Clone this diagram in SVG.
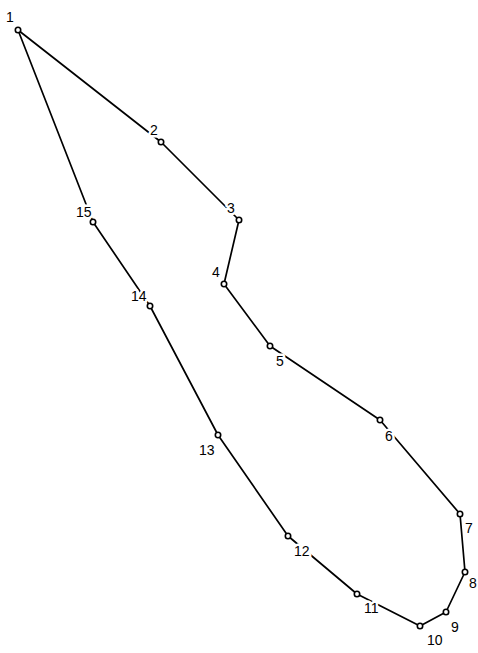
<svg xmlns="http://www.w3.org/2000/svg" width="478" height="653" viewBox="0 0 478 653">
<style>
.e{stroke:#000;stroke-width:1.7;fill:none;stroke-linejoin:round}
.n{fill:#fff;stroke:#000;stroke-width:1.6}
.l{font-family:"Liberation Sans",Arial,sans-serif;font-size:14px;fill:#000;stroke:#fff;stroke-width:5;stroke-linejoin:round;paint-order:stroke}
</style>
<rect width="478" height="653" fill="#fff"/>
<g id="connectors">
<polyline class="e" points="18,30 161,142 239,220 224,284 270,346 380,420 460,514 465,572 446,612 420,626 357,594 288,536 218,435 150,306 93,222 18,30"/>
</g>
<g id="labels">
<text class="l" x="6" y="22">1</text>
<text class="l" x="150" y="135">2</text>
<text class="l" x="227" y="213">3</text>
<text class="l" x="212" y="277">4</text>
<text class="l" x="276" y="366">5</text>
<text class="l" x="385" y="441">6</text>
<text class="l" x="465" y="533">7</text>
<text class="l" x="469" y="588">8</text>
<text class="l" x="451" y="632">9</text>
<text class="l" x="427" y="645">10</text>
<text class="l" x="364" y="613">11</text>
<text class="l" x="294" y="556">12</text>
<text class="l" x="199" y="455">13</text>
<text class="l" x="131" y="301">14</text>
<text class="l" x="76" y="217">15</text>
</g>
<g id="n1"><circle class="n" cx="18" cy="30" r="2.7"/></g>
<g id="n2"><circle class="n" cx="161" cy="142" r="2.7"/></g>
<g id="n3"><circle class="n" cx="239" cy="220" r="2.7"/></g>
<g id="n4"><circle class="n" cx="224" cy="284" r="2.7"/></g>
<g id="n5"><circle class="n" cx="270" cy="346" r="2.7"/></g>
<g id="n6"><circle class="n" cx="380" cy="420" r="2.7"/></g>
<g id="n7"><circle class="n" cx="460" cy="514" r="2.7"/></g>
<g id="n8"><circle class="n" cx="465" cy="572" r="2.7"/></g>
<g id="n9"><circle class="n" cx="446" cy="612" r="2.7"/></g>
<g id="n10"><circle class="n" cx="420" cy="626" r="2.7"/></g>
<g id="n11"><circle class="n" cx="357" cy="594" r="2.7"/></g>
<g id="n12"><circle class="n" cx="288" cy="536" r="2.7"/></g>
<g id="n13"><circle class="n" cx="218" cy="435" r="2.7"/></g>
<g id="n14"><circle class="n" cx="150" cy="306" r="2.7"/></g>
<g id="n15"><circle class="n" cx="93" cy="222" r="2.7"/></g>
</svg>
